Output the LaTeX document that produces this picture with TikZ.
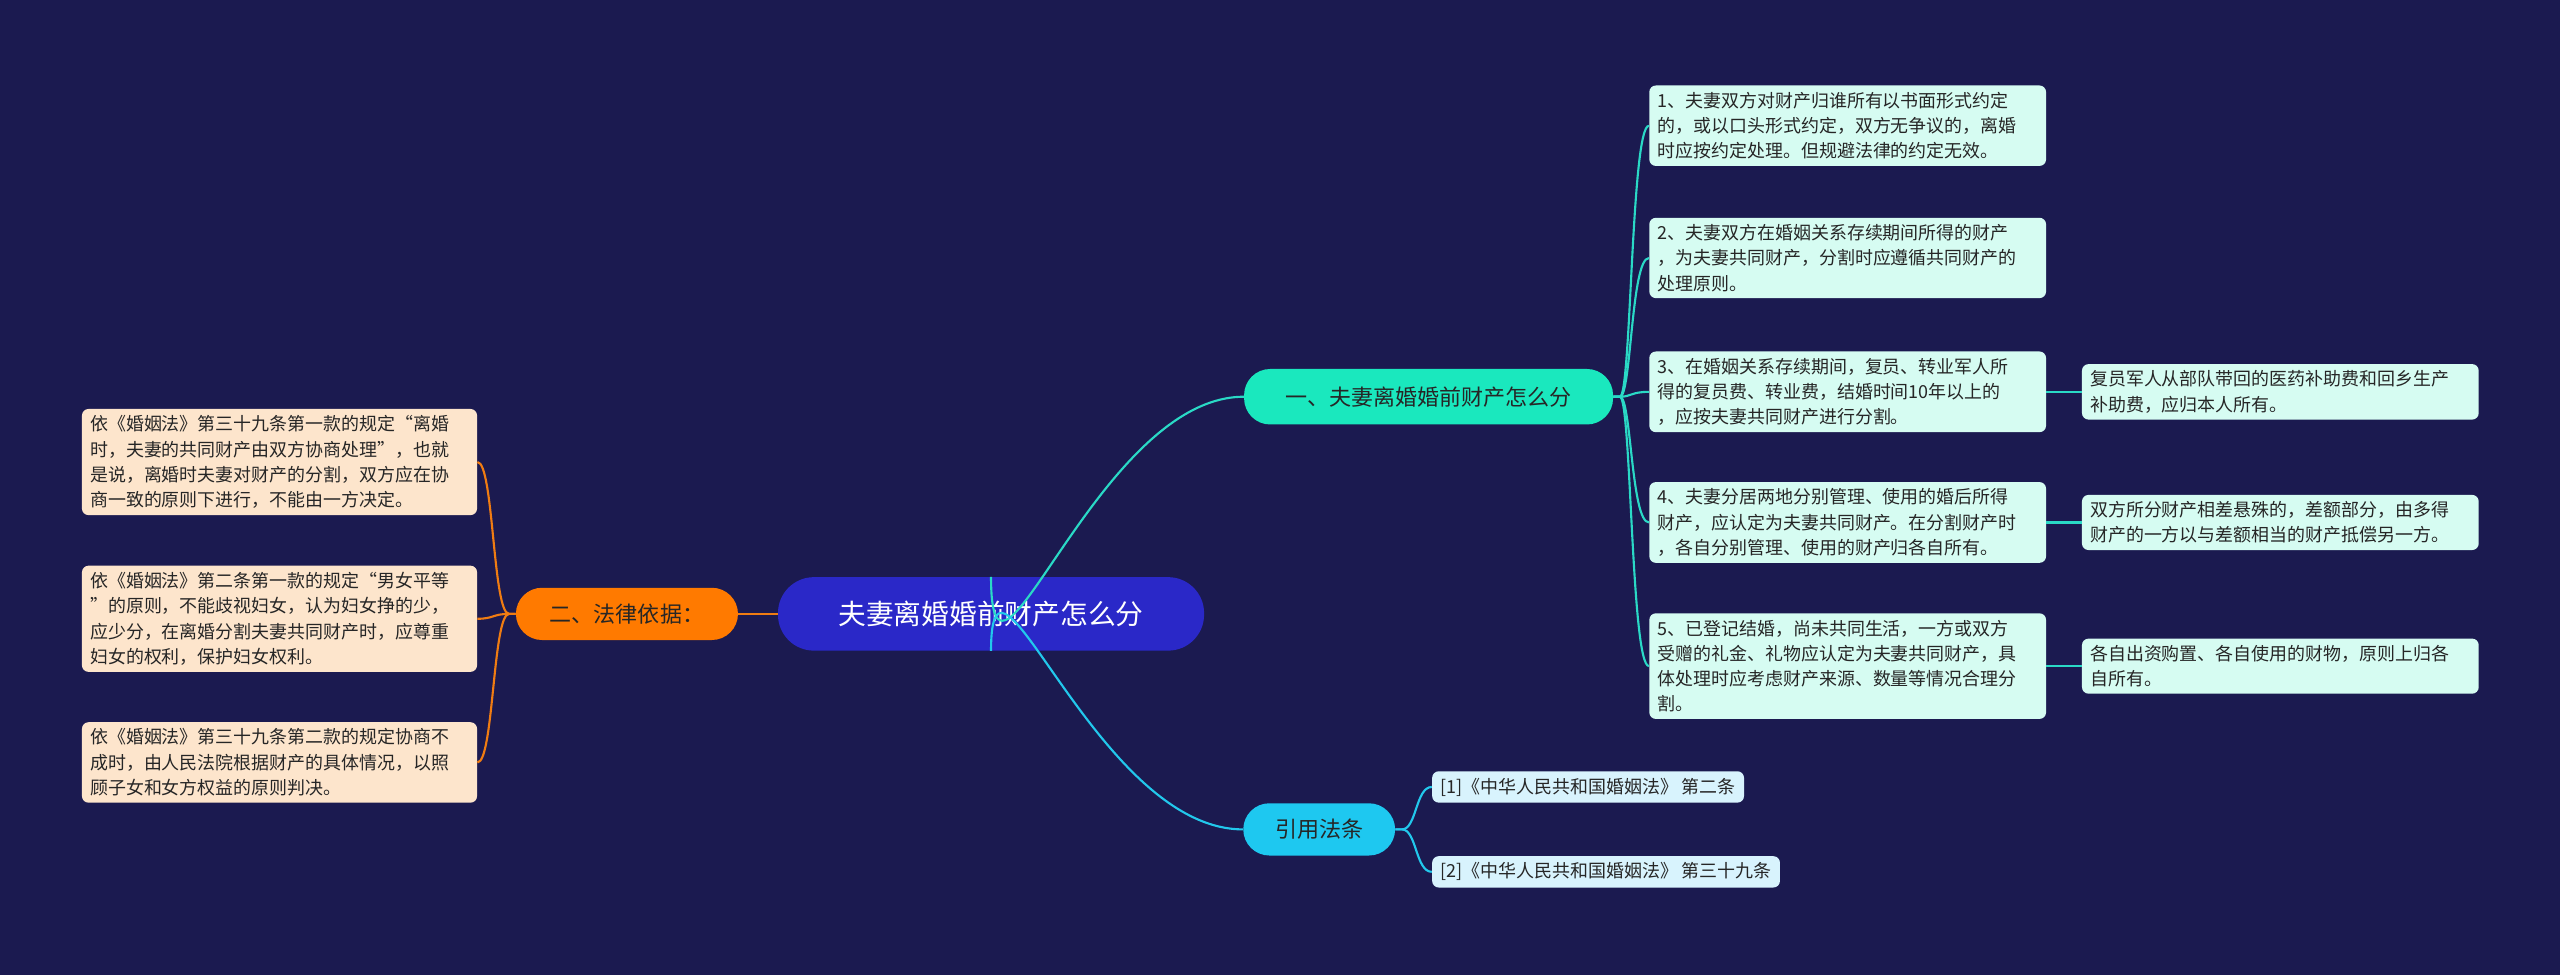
\documentclass[tikz,border=0pt]{standalone}
\usepackage{fontspec}
\setmainfont{Noto Sans CJK SC}
\begin{document}
\begin{tikzpicture}[x=1pt,y=-1pt,
  leaf/.style={draw=none,rounded corners=4pt,align=left,font=\fontsize{11}{15.5}\selectfont,text=black!85,inner xsep=5pt,inner ysep=4pt,anchor=west},
  rleaf/.style={leaf,fill=mintc,text width=233pt},
  sleaf/.style={leaf,fill=mintc,text width=233pt},
  lleaf/.style={leaf,fill=peach,text width=232pt},
  refb/.style={leaf,fill=skyc},
  tl/.style={draw=tealL,line width=1.3pt},
  cl/.style={draw=cyanL,line width=1.3pt},
  ol/.style={draw=orangeL,line width=1.3pt}]
\definecolor{bg}{HTML}{1B1A50}
\definecolor{mintc}{HTML}{D6FCF2}
\definecolor{peach}{HTML}{FDE5CC}
\definecolor{skyc}{HTML}{D8F3FD}
\definecolor{tealL}{HTML}{2AD9C6}
\definecolor{cyanL}{HTML}{22C8EC}
\definecolor{orangeL}{HTML}{F07C12}
\fill[bg] (0,0) rectangle (1568,597);
\useasboundingbox (0,0) rectangle (1568,597);

\node[fill={rgb,255:red,42;green,40;blue,200},text=white,rounded corners=22pt,minimum width=261pt,minimum height=45pt,font=\fontsize{17}{20}\selectfont] (c) at (607,376) {夫妻离婚婚前财产怎么分};
\node[fill={rgb,255:red,26;green,232;blue,190},text=black!85,rounded corners=16pt,minimum width=226pt,minimum height=34pt,font=\fontsize{13.5}{16}\selectfont] (b1) at (875,243) {一、夫妻离婚婚前财产怎么分};
\node[fill={rgb,255:red,30;green,200;blue,240},text=black!85,rounded corners=16pt,minimum width=93pt,minimum height=32pt,font=\fontsize{13.5}{16}\selectfont] (b2) at (808,508) {引用法条};
\node[fill={rgb,255:red,255;green,122;blue,0},text=black!85,rounded corners=16pt,minimum width=136pt,minimum height=32pt,font=\fontsize{13.5}{16}\selectfont] (b3) at (384,376) {二、法律依据：};

\node[rleaf] (l1) at (1010,77) {1、夫妻双方对财产归谁所有以书面形式约定\\的，或以口头形式约定，双方无争议的，离婚\\时应按约定处理。但规避法律的约定无效。};
\node[rleaf] (l2) at (1010,158) {2、夫妻双方在婚姻关系存续期间所得的财产\\，为夫妻共同财产，分割时应遵循共同财产的\\处理原则。};
\node[rleaf] (l3) at (1010,240) {3、在婚姻关系存续期间，复员、转业军人所\\得的复员费、转业费，结婚时间10年以上的\\，应按夫妻共同财产进行分割。};
\node[rleaf] (l4) at (1010,320) {4、夫妻分居两地分别管理、使用的婚后所得\\财产，应认定为夫妻共同财产。在分割财产时\\，各自分别管理、使用的财产归各自所有。};
\node[rleaf] (l5) at (1010,408) {5、已登记结婚，尚未共同生活，一方或双方\\受赠的礼金、礼物应认定为夫妻共同财产，具\\体处理时应考虑财产来源、数量等情况合理分\\割。};

\node[sleaf] (s3) at (1275,240) {复员军人从部队带回的医药补助费和回乡生产\\补助费，应归本人所有。};
\node[sleaf] (s4) at (1275,320) {双方所分财产相差悬殊的，差额部分，由多得\\财产的一方以与差额相当的财产抵偿另一方。};
\node[sleaf] (s5) at (1275,408) {各自出资购置、各自使用的财物，原则上归各\\自所有。};

\node[refb] (r1) at (877,482) {[1]《中华人民共和国婚姻法》 第二条};
\node[refb] (r2) at (877,534) {[2]《中华人民共和国婚姻法》 第三十九条};

\node[lleaf] (a1) at (50,283) {依《婚姻法》第三十九条第一款的规定“离婚\\时，夫妻的共同财产由双方协商处理”，也就\\是说，离婚时夫妻对财产的分割，双方应在协\\商一致的原则下进行，不能由一方决定。};
\node[lleaf] (a2) at (50,379) {依《婚姻法》第二条第一款的规定“男女平等\\”的原则，不能歧视妇女，认为妇女挣的少，\\应少分，在离婚分割夫妻共同财产时，应尊重\\妇女的权利，保护妇女权利。};
\node[lleaf] (a3) at (50,467) {依《婚姻法》第三十九条第二款的规定协商不\\成时，由人民法院根据财产的具体情况，以照\\顾子女和女方权益的原则判决。};

\begin{scope}[on background layer/.try]
\end{scope}
\draw[tl] (c.north) .. controls ([yshift=-100pt]c.north) and ([xshift=-90pt]b1.west) .. (b1.west);
\draw[cl] (c.south) .. controls ([yshift=90pt]c.south) and ([xshift=-90pt]b2.west) .. (b2.west);
\draw[ol] (c.west) -- (b3.east);
\foreach \n in {l1,l2,l3,l4,l5}
  \draw[tl] (b1.east) -- ++(4,0) .. controls ([xshift=11pt]b1.east) and ([xshift=-11pt]\n.west) .. (\n.west);
\draw[tl] (l3.east) -- (s3.west);
\draw[tl] (l4.east) -- (s4.west);
\draw[tl] (l5.east) -- (s5.west);
\foreach \n in {r1,r2}
  \draw[cl] (b2.east) -- ++(4,0) .. controls ([xshift=13pt]b2.east) and ([xshift=-10pt]\n.west) .. (\n.west);
\foreach \n in {a1,a2,a3}
  \draw[ol] (b3.west) -- ++(-4,0) .. controls ([xshift=-14pt]b3.west) and ([xshift=10pt]\n.east) .. (\n.east);
\end{tikzpicture}
\end{document}
